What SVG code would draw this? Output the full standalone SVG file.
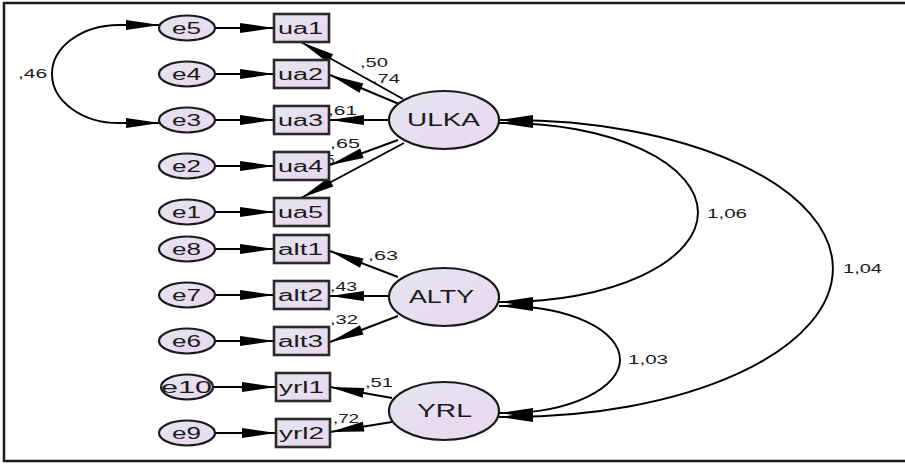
<svg xmlns="http://www.w3.org/2000/svg" width="905" height="464" viewBox="0 0 905 464">
<defs>
<linearGradient id="g" x1="0" y1="0" x2="1" y2="1">
<stop offset="0" stop-color="#e3e6f0"/>
<stop offset="1" stop-color="#ecd6f0"/>
</linearGradient>
<marker id="ah" markerUnits="userSpaceOnUse" markerWidth="34" markerHeight="10" refX="34" refY="5" orient="auto-start-reverse" overflow="visible">
<path d="M0,0 L34,5 L0,10 z" fill="#000"/>
</marker>
<style>
.box{fill:url(#g);stroke:#2a2a2a;stroke-width:2.6}
.ell{fill:url(#g);stroke:#1a1a1a;stroke-width:2.2}
.t{font-family:"Liberation Sans",Arial,sans-serif;fill:#1a1a1a}
.lab{font-size:16px}
.big{font-size:17.5px}
.num{font-size:13.5px}
.c{fill:none;stroke:#000;stroke-width:1.9}
.arr{marker-end:url(#ah)}
.cov{marker-start:url(#ah);marker-end:url(#ah)}
</style>
</defs>
<rect x="0" y="0" width="905" height="464" fill="#fff"/>
<path d="M905,3 L4,3 L4,461 L905,461" fill="none" stroke="#1a1a1a" stroke-width="2.5"/>

<g id="connectors">
<path class="c arr" d="M215,28 L274,28"/>
<path class="c arr" d="M215,74 L274,74"/>
<path class="c arr" d="M215,120 L274,120"/>
<path class="c arr" d="M215,166 L274,166"/>
<path class="c arr" d="M215,212 L274,212"/>
<path class="c arr" d="M215,249 L274,249"/>
<path class="c arr" d="M215,295 L274,295"/>
<path class="c arr" d="M215,341 L274,341"/>
<path class="c arr" d="M213,387 L276,387"/>
<path class="c arr" d="M215,433 L276,433"/>
<path class="c arr" d="M403,99 L301,42"/>
<path class="c arr" d="M399,104 L330,75"/>
<path class="c arr" d="M389,120 L330,120"/>
<path class="c arr" d="M398,140 L330,165"/>
<path class="c arr" d="M404,143 L301,198"/>
<path class="c arr" d="M398,277 L330,251"/>
<path class="c arr" d="M389,296 L330,296"/>
<path class="c arr" d="M398,316 L330,342"/>
<path class="c arr" d="M392,398 L330,387"/>
<path class="c arr" d="M392,422 L330,432"/>
<path class="c cov" d="M160,25 L119,25 A67,49 0 0 0 119,123 L160,123"/>
<path class="c cov" d="M499,123 L505,123 A193,89.5 0 0 1 505,302 L499,302"/>
<path class="c cov" d="M499,120 L510,120 A323,148.5 0 0 1 510,417 L499,417"/>
<path class="c cov" d="M499,306 L505,306 A115,53.5 0 0 1 505,413 L499,413"/>
</g>

<g id="labels">
<text class="t num" x="360" y="67" textLength="28" lengthAdjust="spacingAndGlyphs">,50</text>
<text class="t num" x="372" y="83" textLength="28" lengthAdjust="spacingAndGlyphs">,74</text>
<text class="t num" x="328" y="115" textLength="29" lengthAdjust="spacingAndGlyphs">,61</text>
<text class="t num" x="330" y="148" textLength="30" lengthAdjust="spacingAndGlyphs">,65</text>
<text class="t num" x="327" y="164">5</text>
<text class="t num" x="368" y="260" textLength="30" lengthAdjust="spacingAndGlyphs">,63</text>
<text class="t num" x="330" y="291" textLength="27" lengthAdjust="spacingAndGlyphs">,43</text>
<text class="t num" x="330" y="324" textLength="28" lengthAdjust="spacingAndGlyphs">,32</text>
<text class="t num" x="365" y="387" textLength="28" lengthAdjust="spacingAndGlyphs">,51</text>
<text class="t num" x="333" y="423" textLength="26" lengthAdjust="spacingAndGlyphs">,72</text>
<text class="t num" x="18" y="78" textLength="29" lengthAdjust="spacingAndGlyphs">,46</text>
<text class="t num" x="707" y="218" textLength="40" lengthAdjust="spacingAndGlyphs">1,06</text>
<text class="t num" x="843" y="273" textLength="39" lengthAdjust="spacingAndGlyphs">1,04</text>
<text class="t num" x="628" y="364" textLength="40" lengthAdjust="spacingAndGlyphs">1,03</text>
</g>

<g id="e5"><ellipse class="ell" cx="187" cy="28" rx="28" ry="12.5"/><text class="t lab" x="172" y="33.5" textLength="29" lengthAdjust="spacingAndGlyphs">e5</text></g>
<g id="e4"><ellipse class="ell" cx="187" cy="74" rx="28" ry="12.5"/><text class="t lab" x="172" y="79.5" textLength="29" lengthAdjust="spacingAndGlyphs">e4</text></g>
<g id="e3"><ellipse class="ell" cx="187" cy="120" rx="28" ry="12.5"/><text class="t lab" x="172" y="125.5" textLength="29" lengthAdjust="spacingAndGlyphs">e3</text></g>
<g id="e2"><ellipse class="ell" cx="187" cy="166" rx="28" ry="12.5"/><text class="t lab" x="172" y="171.5" textLength="29" lengthAdjust="spacingAndGlyphs">e2</text></g>
<g id="e1"><ellipse class="ell" cx="187" cy="212" rx="28" ry="12.5"/><text class="t lab" x="172" y="217.5" textLength="29" lengthAdjust="spacingAndGlyphs">e1</text></g>
<g id="e8"><ellipse class="ell" cx="187" cy="249" rx="28" ry="12.5"/><text class="t lab" x="172" y="254.5" textLength="29" lengthAdjust="spacingAndGlyphs">e8</text></g>
<g id="e7"><ellipse class="ell" cx="187" cy="295" rx="28" ry="12.5"/><text class="t lab" x="172" y="300.5" textLength="29" lengthAdjust="spacingAndGlyphs">e7</text></g>
<g id="e6"><ellipse class="ell" cx="187" cy="341" rx="28" ry="12.5"/><text class="t lab" x="172" y="346.5" textLength="29" lengthAdjust="spacingAndGlyphs">e6</text></g>
<g id="e10"><ellipse class="ell" cx="187" cy="387" rx="26" ry="12.5"/><text class="t lab" x="161" y="392.5" textLength="51" lengthAdjust="spacingAndGlyphs">e10</text></g>
<g id="e9"><ellipse class="ell" cx="187" cy="433" rx="28" ry="12.5"/><text class="t lab" x="172" y="438.5" textLength="29" lengthAdjust="spacingAndGlyphs">e9</text></g>

<g id="ua1"><rect class="box" x="274" y="14" width="55" height="28"/><text class="t lab" x="278" y="33.5" textLength="45" lengthAdjust="spacingAndGlyphs">ua1</text></g>
<g id="ua2"><rect class="box" x="274" y="60" width="55" height="28"/><text class="t lab" x="278" y="79.5" textLength="45" lengthAdjust="spacingAndGlyphs">ua2</text></g>
<g id="ua3"><rect class="box" x="274" y="106" width="55" height="28"/><text class="t lab" x="278" y="125.5" textLength="45" lengthAdjust="spacingAndGlyphs">ua3</text></g>
<g id="ua4"><rect class="box" x="274" y="152" width="55" height="28"/><text class="t lab" x="278" y="171.5" textLength="45" lengthAdjust="spacingAndGlyphs">ua4</text></g>
<g id="ua5"><rect class="box" x="274" y="198" width="55" height="28"/><text class="t lab" x="278" y="217.5" textLength="45" lengthAdjust="spacingAndGlyphs">ua5</text></g>
<g id="alt1"><rect class="box" x="274" y="235" width="55" height="28"/><text class="t lab" x="278" y="254.5" textLength="45" lengthAdjust="spacingAndGlyphs">alt1</text></g>
<g id="alt2"><rect class="box" x="274" y="281" width="55" height="28"/><text class="t lab" x="278" y="300.5" textLength="45" lengthAdjust="spacingAndGlyphs">alt2</text></g>
<g id="alt3"><rect class="box" x="274" y="327" width="55" height="28"/><text class="t lab" x="278" y="346.5" textLength="45" lengthAdjust="spacingAndGlyphs">alt3</text></g>
<g id="yrl1"><rect class="box" x="276" y="373" width="54" height="28"/><text class="t lab" x="279" y="392.5" textLength="45" lengthAdjust="spacingAndGlyphs">yrl1</text></g>
<g id="yrl2"><rect class="box" x="276" y="419" width="54" height="28"/><text class="t lab" x="279" y="438.5" textLength="45" lengthAdjust="spacingAndGlyphs">yrl2</text></g>

<g id="ULKA"><ellipse class="ell" cx="444" cy="120" rx="55" ry="29"/><text class="t big" x="407" y="126" textLength="73" lengthAdjust="spacingAndGlyphs">ULKA</text></g>
<g id="ALTY"><ellipse class="ell" cx="444" cy="297" rx="55" ry="29"/><text class="t big" x="409" y="303" textLength="65" lengthAdjust="spacingAndGlyphs">ALTY</text></g>
<g id="YRL"><ellipse class="ell" cx="444" cy="411" rx="55" ry="29"/><text class="t big" x="417" y="417" textLength="55" lengthAdjust="spacingAndGlyphs">YRL</text></g>
</svg>
